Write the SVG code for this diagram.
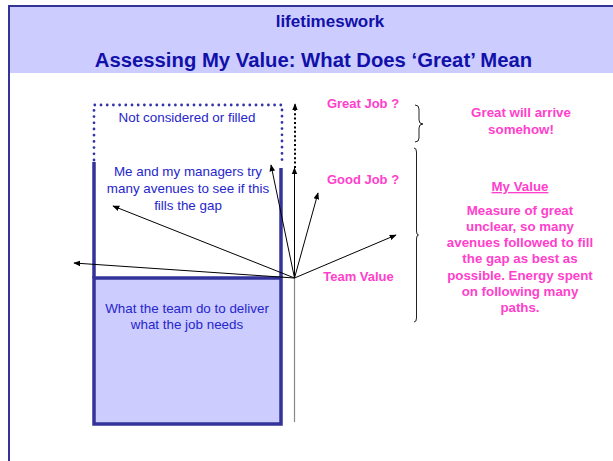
<svg xmlns="http://www.w3.org/2000/svg" width="613" height="461" viewBox="0 0 613 461">
<defs>
<style>
.hdr{font-family:"Liberation Sans",Arial,sans-serif;font-weight:bold;fill:#1111AA;text-anchor:middle}
.blue{font-family:"Liberation Sans",Arial,sans-serif;font-size:13.4px;fill:#2626CC;text-anchor:middle}
.pink{font-family:"Liberation Sans",Arial,sans-serif;font-size:13px;font-weight:bold;fill:#FF40CC;text-anchor:middle}
.note{font-size:13.3px}
.arr{stroke:#000;stroke-width:1;fill:none;marker-end:url(#ah)}
.dotblue{stroke:#3333AA;stroke-width:2.8;stroke-linecap:round;stroke-dasharray:0 6.2;fill:none}
.brace{stroke:#222;stroke-width:1;fill:none}
</style>
<marker id="ah" viewBox="0 0 10 10" refX="9" refY="5" markerWidth="7" markerHeight="7" markerUnits="userSpaceOnUse" orient="auto">
<path d="M0,1 L10,5 L0,9 z" fill="#000"/>
</marker>
</defs>
<rect width="613" height="461" fill="#fff"/>
<g id="header">
<rect x="9" y="6" width="604" height="67" fill="#CCCCFF"/>
<line x1="8" y1="6" x2="613" y2="6" stroke="#333399" stroke-width="2"/>
<line x1="9" y1="5" x2="9" y2="461" stroke="#333399" stroke-width="2"/>
<text class="hdr" x="330" y="27" font-size="17">lifetimeswork</text>
<text class="hdr" x="313.5" y="67" font-size="20.3">Assessing My Value: What Does ‘Great’ Mean</text>
</g>
<g id="gap-box">
<path class="dotblue" d="M94,160 L94,105 L282,105 L282,162"/>
<line x1="94" y1="162" x2="94" y2="278" stroke="#333399" stroke-width="3.5"/>
<line x1="281" y1="168" x2="281" y2="278" stroke="#333399" stroke-width="3.5"/>
<text class="blue" x="187" y="122">Not considered or filled</text>
<text class="blue" x="188" y="175.5">Me and my managers try</text>
<text class="blue" x="188" y="192.5">many avenues to see if this</text>
<text class="blue" x="188" y="209.5">fills the gap</text>
</g>
<g id="team-box">
<rect x="94" y="278" width="187" height="146" fill="#CCCCFF" stroke="#333399" stroke-width="3.5"/>
<text class="blue" x="187" y="312.5">What the team do to deliver</text>
<text class="blue" x="187" y="328.5">what the job needs</text>
</g>
<g id="connectors">
<line x1="294.5" y1="278" x2="294.5" y2="422" stroke="#888" stroke-width="1.2"/>
<line class="arr" x1="294.5" y1="278" x2="74" y2="263"/>
<line class="arr" x1="294.5" y1="278" x2="113" y2="206"/>
<line class="arr" x1="294.5" y1="278" x2="271" y2="165"/>
<line class="arr" x1="294.5" y1="278" x2="294.5" y2="168" stroke="#444"/>
<line class="arr" x1="294.5" y1="278" x2="318" y2="193"/>
<line class="arr" x1="294.5" y1="278" x2="396" y2="235"/>
<line x1="295" y1="168" x2="295" y2="104" stroke="#000" stroke-width="2" stroke-dasharray="2 2.4" marker-end="url(#ah)"/>
</g>
<g id="labels">
<text class="pink" x="363" y="108">Great Job ?</text>
<text class="pink" x="363" y="184">Good Job ?</text>
<text class="pink" x="358.5" y="281">Team Value</text>
</g>
<g id="braces">
<path class="brace" d="M415,105 Q419,105 419,109 L419,120 Q419,124 423,124 Q419,124 419,128 L419,138 Q419,142 415,142"/>
<path class="brace" d="M414,148 Q416.5,148 416.5,152 L416.5,231 Q416.5,235 418.5,235 Q416.5,235 416.5,239 L416.5,318 Q416.5,322 414,322"/>
</g>
<g id="notes">
<text class="pink note" x="521" y="117">Great will arrive</text>
<text class="pink note" x="521" y="134">somehow!</text>
<text class="pink note" x="520" y="191" text-decoration="underline">My Value</text>
<text class="pink note" x="520" y="215">Measure of great</text>
<text class="pink note" x="520" y="231">unclear, so many</text>
<text class="pink note" x="520" y="247">avenues followed to fill</text>
<text class="pink note" x="520" y="263">the gap as best as</text>
<text class="pink note" x="520" y="279.5">possible. Energy spent</text>
<text class="pink note" x="520" y="296">on following many</text>
<text class="pink note" x="520" y="312">paths.</text>
</g>
</svg>
